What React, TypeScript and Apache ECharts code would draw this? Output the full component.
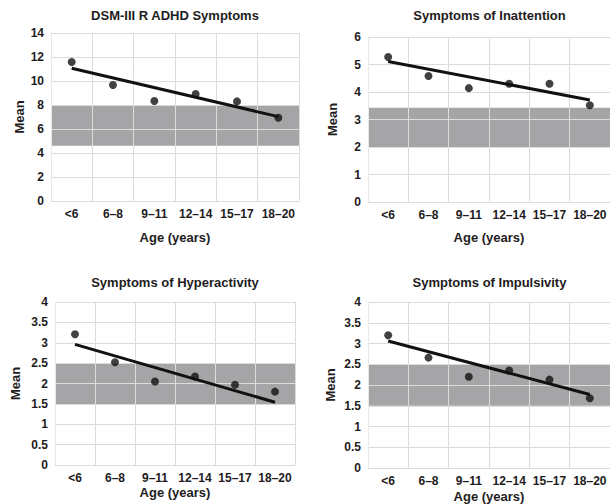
import React, { useEffect, useRef } from "react";
import * as echarts from "echarts";

const categories = ["<6", "6–8", "9–11", "12–14", "15–17", "18–20"];

const titles = [
  "DSM-III R ADHD Symptoms",
  "Symptoms of Inattention",
  "Symptoms of Hyperactivity",
  "Symptoms of Impulsivity",
];

const totalMeans = [11.58, 9.67, 8.33, 8.92, 8.3, 6.94];
const inattentionMeans = [5.27, 4.58, 4.14, 4.3, 4.3, 3.52];
const hyperactivityMeans = [3.21, 2.52, 2.05, 2.17, 1.97, 1.8];
const impulsivityMeans = [3.2, 2.66, 2.2, 2.35, 2.13, 1.68];

// trend line endpoints (first and last age group)
const totalTrend = [11.06, 7.03];
const inattentionTrend = [5.11, 3.71];
const hyperactivityTrend = [2.96, 1.54];
const impulsivityTrend = [3.06, 1.77];

// shaded reference bands [low, high]
const totalBand = [4.6, 8.0];
const inattentionBand = [2.0, 3.43];
const hyperactivityBand = [1.5, 2.5];
const impulsivityBand = [1.5, 2.5];

// y-axis scales [max, interval]
const totalScale = [14, 2];
const inattentionScale = [6, 1];
const hyperactivityScale = [4, 0.5];
const impulsivityScale = [4, 0.5];

const FONT = "'Liberation Sans', Arial, Helvetica, sans-serif";
const TEXT = "#1e1c1d";
const GRIDC = "#dcdcdc";

export default function App() {
  const ref = useRef<HTMLDivElement>(null);
  useEffect(() => {
    if (!ref.current) return;
    const chart = echarts.init(ref.current, undefined, { renderer: "svg" });

    const panels = [
      { means: totalMeans, trend: totalTrend, band: totalBand, scale: totalScale,
        grid: { left: 51, top: 33, width: 248, height: 168 }, yGap: 25, xGap: 30, titleTop: 9 },
      { means: inattentionMeans, trend: inattentionTrend, band: inattentionBand, scale: inattentionScale,
        grid: { left: 368, top: 37, width: 243, height: 165 }, yGap: 29, xGap: 29, titleTop: 9 },
      { means: hyperactivityMeans, trend: hyperactivityTrend, band: hyperactivityBand, scale: hyperactivityScale,
        grid: { left: 55, top: 302, width: 240, height: 163 }, yGap: 33, xGap: 21, titleTop: 276 },
      { means: impulsivityMeans, trend: impulsivityTrend, band: impulsivityBand, scale: impulsivityScale,
        grid: { left: 368, top: 302, width: 243, height: 167 }, yGap: 31, xGap: 22, titleTop: 276 },
    ];

    const tickStyle = { fontFamily: FONT, fontWeight: "bold" as const, fontSize: 12, color: TEXT };
    const nameStyle = { fontFamily: FONT, fontWeight: "bold" as const, fontSize: 13, color: TEXT };

    const option: any = {
      animation: false,
      backgroundColor: "#ffffff",
      title: panels.map((p, i) => ({
        text: titles[i],
        left: p.grid.left + p.grid.width / 2,
        top: p.titleTop,
        textAlign: "center",
        padding: 0,
        textStyle: nameStyle,
      })),
      grid: panels.map((p) => ({ ...p.grid, containLabel: false })),
      xAxis: panels.map((p, i) => ({
        type: "category",
        gridIndex: i,
        data: categories,
        boundaryGap: true,
        z: 2,
        name: "Age (years)",
        nameLocation: "middle",
        nameGap: p.xGap,
        nameTextStyle: nameStyle,
        axisLine: { show: true, lineStyle: { color: GRIDC, width: 1 } },
        axisTick: { show: false },
        axisLabel: { ...tickStyle, margin: 7, interval: 0 },
        splitLine: { show: true, lineStyle: { color: GRIDC, width: 1 } },
      })),
      yAxis: panels.map((p, i) => ({
        type: "value",
        gridIndex: i,
        min: 0,
        max: p.scale[0],
        interval: p.scale[1],
        z: 2,
        name: "Mean",
        nameLocation: "middle",
        nameGap: p.yGap,
        nameRotate: 90,
        nameTextStyle: nameStyle,
        axisLine: { show: true, lineStyle: { color: "#e8e8e8", width: 1 } },
        axisTick: { show: false },
        axisLabel: { ...tickStyle, margin: 7 },
        splitLine: { show: true, lineStyle: { color: GRIDC, width: 1 } },
      })),
      series: panels.flatMap((p, i) => [
        {
          type: "scatter",
          xAxisIndex: i,
          yAxisIndex: i,
          data: [],
          z: 1,
          silent: true,
          markArea: {
            silent: true,
            itemStyle: { color: "#a5a5a8" },
            data: [[{ yAxis: p.band[0] }, { yAxis: p.band[1] }]],
          },
        },
        {
          type: "line",
          xAxisIndex: i,
          yAxisIndex: i,
          z: 3,
          data: categories.map((_, k) =>
            k === 0 ? p.trend[0] : k === categories.length - 1 ? p.trend[1] : null
          ),
          connectNulls: true,
          showSymbol: false,
          symbol: "none",
          lineStyle: { color: "#111111", width: 3 },
          silent: true,
        },
        {
          type: "scatter",
          xAxisIndex: i,
          yAxisIndex: i,
          z: 4,
          data: p.means,
          symbol: "circle",
          symbolSize: 8,
          itemStyle: { color: "#111111" },
          silent: true,
        },
      ]),
    };

    chart.setOption(option);
    return () => chart.dispose();
  }, []);

  return (
    <div
      ref={ref}
      style={{ position: "fixed", left: 0, top: 0, width: 610, height: 504, background: "#fff" }}
    />
  );
}
